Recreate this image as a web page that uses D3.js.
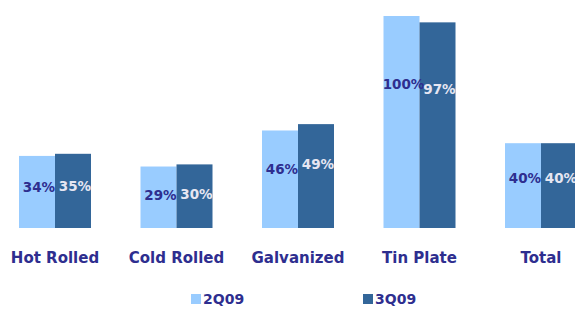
<!DOCTYPE html>
<html>
<head>
<meta charset="utf-8">
<script src="https://cdn.jsdelivr.net/npm/d3@7"></script>
<style>
  body { margin: 0; background: #fff; }
  svg { display: block; }
</style>
</head>
<body>
<svg></svg>
<script>
const width = 575;
const height = 314;

// data
const categories = ["Hot Rolled", "Cold Rolled", "Galvanized", "Tin Plate", "Total"];
const series = ["2Q09", "3Q09"];
const values2Q09 = [34, 29, 46, 100, 40];
const values3Q09 = [35, 30, 49, 97, 40];

const colors = { "2Q09": "#99ccff", "3Q09": "#336699" };
const labelColors = { "2Q09": "#2e2e8f", "3Q09": "#e6e6f2" };
const navy = "#2e2e8f";

const svg = d3.select("svg")
    .attr("width", width)
    .attr("height", height);

const rows = categories.map((c, i) => ({
    category: c,
    values: [
        { key: "2Q09", value: values2Q09[i] },
        { key: "3Q09", value: values3Q09[i] }
    ]
}));

// group scale: step ~121.5px, first group centred at x=55
const x0 = d3.scaleBand()
    .domain(categories)
    .range([-5.75, 601.75])
    .paddingInner(0.4074)
    .paddingOuter(0.2037);

const x1 = d3.scaleBand()
    .domain(series)
    .range([0, x0.bandwidth()]);

const y = d3.scaleLinear()
    .domain([0, 100])
    .range([228, 16]);

// value labels sit a bit below the bar top, scaled with the value
const labelY = d3.scaleLinear()
    .domain([0, 100])
    .range([241, 84]);

const groups = svg.selectAll(".group")
    .data(rows)
    .enter()
    .append("g")
    .attr("class", "group")
    .attr("transform", d => `translate(${x0(d.category)},0)`);

groups.selectAll("rect")
    .data(d => d.values)
    .enter()
    .append("rect")
    .attr("x", d => x1(d.key))
    .attr("y", d => y(d.value))
    .attr("width", x1.bandwidth())
    .attr("height", d => y(0) - y(d.value))
    .style("fill", d => colors[d.key]);

groups.selectAll("text.value")
    .data(d => d.values)
    .enter()
    .append("text")
    .attr("class", "value")
    .attr("x", d => x1(d.key) + x1.bandwidth() / 2 + 2)
    .attr("y", d => labelY(d.value))
    .attr("dy", "0.36em")
    .style("text-anchor", "middle")
    .style("font-family", "DejaVu Sans, Verdana, sans-serif")
    .style("font-weight", "bold")
    .style("font-size", "13.5px")
    .style("fill", d => labelColors[d.key])
    .text(d => d.value + "%");

// category axis
const axis = svg.append("g")
    .attr("transform", `translate(0,${y(0)})`)
    .call(d3.axisBottom(x0).tickSize(0).tickPadding(24));

axis.select(".domain").remove();
axis.selectAll("text")
    .style("font-family", "DejaVu Sans, Verdana, sans-serif")
    .style("font-weight", "bold")
    .style("font-size", "15px")
    .style("fill", navy);

// legend
const legendX = d3.scalePoint()
    .domain(series)
    .range([191, 363]);

const legend = svg.selectAll(".legend")
    .data(series)
    .enter()
    .append("g")
    .attr("class", "legend")
    .attr("transform", d => `translate(${legendX(d)},294)`);

legend.append("rect")
    .attr("width", 10)
    .attr("height", 10)
    .style("fill", d => colors[d]);

legend.append("text")
    .attr("x", 12)
    .attr("y", 10)
    .style("font-family", "DejaVu Sans, Verdana, sans-serif")
    .style("font-weight", "bold")
    .style("font-size", "14px")
    .style("fill", navy)
    .text(d => d);
</script>
</body>
</html>
